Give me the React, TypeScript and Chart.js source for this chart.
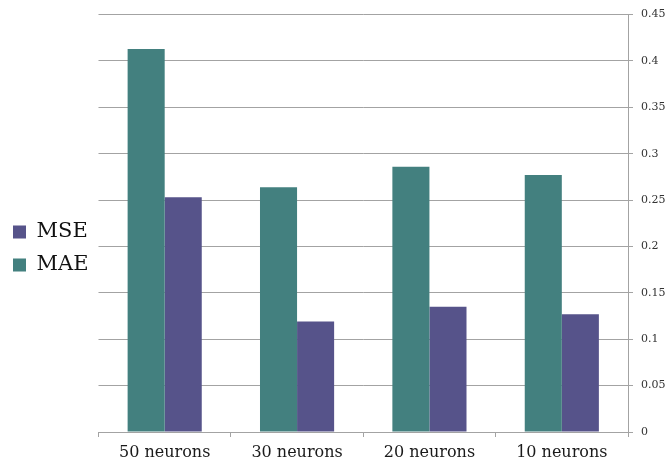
import React, { useEffect, useRef } from "react";
import { Chart, registerables } from "chart.js";

Chart.register(...registerables);

const categories = ["50 neurons", "30 neurons", "20 neurons", "10 neurons"];
const maeValues = [0.413, 0.264, 0.286, 0.277];
const mseValues = [0.253, 0.119, 0.135, 0.127];
const yTicks = [0, 0.05, 0.1, 0.15, 0.2, 0.25, 0.3, 0.35, 0.4, 0.45];

const SERIF = "'DejaVu Serif', 'Liberation Serif', serif";
const GRID = "#a3a3a3";

export default function App() {
  const canvasRef = useRef<HTMLCanvasElement | null>(null);

  useEffect(() => {
    const canvas = canvasRef.current;
    if (!canvas) return;
    const chart = new Chart(canvas, {
      type: "bar",
      data: {
        labels: categories,
        datasets: [
          {
            label: "MAE",
            data: maeValues,
            backgroundColor: "#43807f",
            categoryPercentage: 0.56,
            barPercentage: 1,
          },
          {
            label: "MSE",
            data: mseValues,
            backgroundColor: "#56538a",
            categoryPercentage: 0.56,
            barPercentage: 1,
          },
        ],
      },
      options: {
        animation: false,
        responsive: false,
        maintainAspectRatio: false,
        layout: { padding: { top: 7, left: 1, right: 0, bottom: 0 } },
        plugins: {
          tooltip: { enabled: false },
          legend: {
            position: "left",
            align: "center",
            reverse: true,
            // empty title only pushes the legend entries down a little
            title: {
              display: true,
              text: "",
              font: { size: 14, lineHeight: 1 },
              padding: { top: 5, bottom: 5 },
            },
            labels: {
              boxWidth: 13,
              boxHeight: 13,
              padding: 12,
              color: "#111111",
              font: { family: SERIF, size: 21 },
            },
          },
        },
        scales: {
          x: {
            offset: true,
            grid: {
              offset: true,
              drawOnChartArea: false,
              drawTicks: true,
              tickLength: 5,
              color: GRID,
            },
            border: { display: true, color: GRID },
            ticks: {
              color: "#1a1a1a",
              padding: 6,
              font: { family: SERIF, size: 16 },
            },
            afterFit: (scale: any) => {
              scale.height = 34;
            },
          },
          y: {
            position: "right",
            min: 0,
            max: 0.45,
            afterBuildTicks: (scale: any) => {
              scale.ticks = yTicks.map((v) => ({ value: v }));
            },
            grid: {
              color: GRID,
              tickLength: 5,
              drawTicks: true,
            },
            border: { display: true, color: GRID },
            ticks: {
              color: "#333333",
              padding: 8,
              font: { family: SERIF, size: 11 },
              callback: (v: any) => String(Number(Number(v).toFixed(2))),
            },
            afterFit: (scale: any) => {
              scale.width = 41;
            },
          },
        },
      },
    });
    return () => chart.destroy();
  }, []);

  return (
    <div
      style={{
        position: "fixed",
        left: 0,
        top: 0,
        width: 669,
        height: 466,
        background: "#ffffff",
      }}
    >
      <canvas ref={canvasRef} width={669} height={466} />
    </div>
  );
}
